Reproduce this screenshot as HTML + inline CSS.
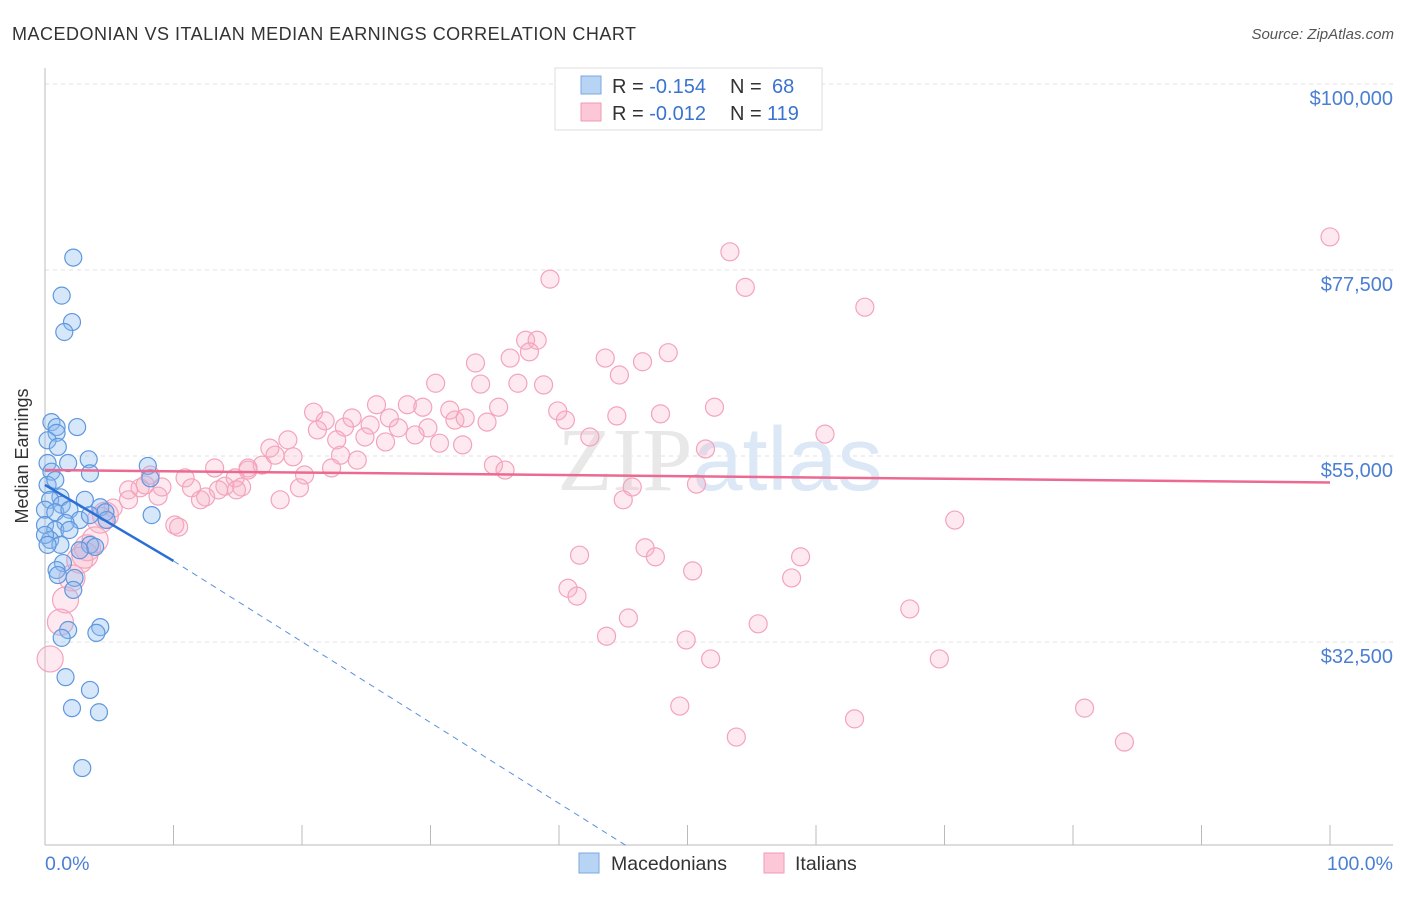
<!DOCTYPE html>
<html><head><meta charset="utf-8"><style>
body{margin:0;background:#fff;font-family:"Liberation Sans",sans-serif}
</style></head><body>
<svg width="1406" height="892" xmlns="http://www.w3.org/2000/svg">
<text x="12" y="40" font-size="18" fill="#333" textLength="624">MACEDONIAN VS ITALIAN MEDIAN EARNINGS CORRELATION CHART</text>
<text x="1394" y="39" font-size="15" fill="#555" text-anchor="end" font-style="italic">Source: ZipAtlas.com</text>
<g id="grid"></g>
<text x="720" y="490" font-size="90" fill="#e8e8e8" text-anchor="middle" font-family="Liberation Serif,serif">ZIP<tspan fill="#dce8f5" font-family="Liberation Sans,sans-serif">atlas</tspan></text>
<g id="pts"></g>
<g id="trend"></g>
<text x="28" y="456" font-size="18" fill="#333" text-anchor="middle" transform="rotate(-90 28 456)">Median Earnings</text>
<text x="45" y="870" font-size="19.5" fill="#4a7fd4">0.0%</text>
<text x="1393" y="870" font-size="19.5" fill="#4a7fd4" text-anchor="end">100.0%</text>
<g>
<rect x="555" y="68" width="267" height="62" fill="#fff" stroke="#ddd"/>
<rect x="581" y="76" width="20" height="18" fill="#b8d4f5" stroke="#7aa8e0"/>
<rect x="581" y="103" width="20" height="18" fill="#fcc8d8" stroke="#f09ab5"/>
<text x="612" y="93" font-size="20" fill="#333">R = <tspan fill="#3a74cf">-0.154</tspan><tspan x="730">N = </tspan><tspan x="772" fill="#3a74cf">68</tspan></text>
<text x="612" y="120" font-size="20" fill="#333">R = <tspan fill="#3a74cf">-0.012</tspan><tspan x="730">N = </tspan><tspan x="767" fill="#3a74cf">119</tspan></text>
</g>
<g>
<rect x="579" y="853" width="20" height="20" fill="#b8d4f5" stroke="#7aa8e0"/>
<text x="611" y="870" font-size="19.5" fill="#333">Macedonians</text>
<rect x="764" y="853" width="20" height="20" fill="#fcc8d8" stroke="#f09ab5"/>
<text x="795" y="870" font-size="19.5" fill="#333">Italians</text>
</g>
</svg>
<script>
const yTicks=[100000,77500,55000,32500];
const yTickLabels=["$100,000","$77,500","$55,000","$32,500"];
const blueX=[2.2,1.3,2.1,1.5,0.5,0.9,2.5,0.9,0.2,1.0,1.8,3.4,3.5,0.2,0.5,0.2,0.8,1.2,3.1,0.4,1.3,0.0,0.8,1.9,2.7,1.6,4.3,0,0.8,1.9,0.4,1.2,3.5,1.4,0.9,1.0,2.3,2.2,1.8,4.3,4.0,1.3,1.6,3.5,2.1,4.2,2.9,8.0,8.2,8.3,3.9,0,0.2,2.7,3.5,4.7,4.8];
const blueY=[79000,74400,71200,70000,59100,58500,58500,57800,56900,56100,54150,54600,52900,54150,53100,51500,52100,50000,49700,49700,49100,48500,48200,48500,47250,46900,48800,46650,46050,46050,44850,44250,44250,42050,41200,40600,40250,38800,33950,34300,33600,33000,28250,26700,24500,24000,17250,53800,52300,47850,44000,45450,44250,43600,47850,48200,47250];
const pinkX=[100,53.3,39.3,54.5,63.8,37.4,38.3,37.7,33.5,36.2,33.9,36.8,38.8,43.6,44.7,46.5,48.5,30.4,25.8,28.2,29.4,31.5,35.3,39.9,44.5,47.9,52.1,20.9,21.8,23.9,21.2,23.3,25.3,26.8,27.5,29.8,31.9,32.7,34.4,40.5,42.4,51.4,60.7,18.9,22.7,24.9,26.5,28.8,30.7,32.5,17.5,17.9,19.3,23.0,24.3,22.3,16.9,15.8,13.2,15.8,14.8,14.0,15.3,20.2,19.8,18.3,14.9,13.5,10.9,11.4,12.5,12.1,8.8,9.1,7.4,6.5,5.3,4.7,10.1,10.4,34.9,35.8,45.7,45.0,50.7,70.8,41.6,46.7,47.5,50.4,58.8,58.1,40.7,41.4,45.4,43.7,49.9,51.8,55.5,67.3,69.6,49.4,53.8,63.0,80.9,84.0,3.3,2.7,2.1,1.6,1.2,0.4,3.9,4.3,6.5,7.8,8.2,3.1];
const pinkY=[81500,79700,76400,75400,73000,69000,69000,67600,66250,66850,63700,63800,63600,66850,64800,66400,67500,63800,61200,61200,60900,60550,60900,60450,59850,60100,60900,60300,59250,59600,58150,58500,58750,59600,58400,58400,59350,59600,59100,59350,57300,55850,57650,56950,56950,57300,56700,57550,56550,56350,55950,55100,54900,55100,54500,53550,53900,53550,53550,53300,52350,51350,51250,52700,51150,49700,50900,50900,52350,51150,50050,49700,50150,51250,51150,50900,48700,47850,46650,46400,53900,53300,51250,49700,51600,47250,43000,43900,42800,41100,42800,40250,39000,38050,35400,33200,32750,30450,34700,36500,30450,24750,21000,23200,24500,20400,43900,42400,40250,37600,34900,30450,44850,47250,49700,51500,52700,43000];
const blueTrend=[[0,51500],[10,42300],[45.2,7900]];
const pinkTrend=[[0,53300],[100,51800]];
const NS="http://www.w3.org/2000/svg";
const X0=45,X1=1330,YB=845;
function sx(p){return X0+(X1-X0)*p/100;}
function sy(v){return 456-(v-55000)*186/22500;}
function mk(t,a,p){const e=document.createElementNS(NS,t);for(const k in a)e.setAttribute(k,a[k]);p.appendChild(e);return e;}
const grid=document.getElementById('grid');
yTicks.forEach((v,i)=>{
 const l=mk('line',{x1:X0,x2:1393,y1:sy(v),y2:sy(v),stroke:'#e2e2e2','stroke-dasharray':'4,4'},grid);
 
 
 const t=mk('text',{x:1393,y:sy(v)+21,'font-size':20,fill:'#4a7fd4','text-anchor':'end'},grid);
 t.textContent=yTickLabels[i];
 
 
});
const ax=mk('line',{x1:X0,x2:X0,y1:68,y2:YB,stroke:'#bbb'},grid);


const bx=mk('line',{x1:X0,x2:1393,y1:YB,y2:YB,stroke:'#bbb'},grid);


for(let i=0;i<=10;i++){const tk=mk('line',{x1:sx(i*10),x2:sx(i*10),y1:YB,y2:YB-20,stroke:'#bbb'},grid);
 
 }
const pts=document.getElementById('pts');
pinkX.forEach((x,i)=>{const c=mk('circle',{cx:sx(x),cy:sy(pinkY[i]),r:x<5?13:9,fill:'rgba(248,175,198,0.28)',stroke:'#f4a3bd','stroke-width':1.2},pts);
 
 });
blueX.forEach((x,i)=>{const c=mk('circle',{cx:sx(x),cy:sy(blueY[i]),r:8.5,fill:'rgba(140,185,240,0.35)',stroke:'#5f98de','stroke-width':1.2},pts);
 
 });
const tr=document.getElementById('trend');
const b1=mk('line',{x1:sx(blueTrend[0][0]),y1:sy(blueTrend[0][1]),x2:sx(blueTrend[1][0]),y2:sy(blueTrend[1][1]),stroke:'#2a6fd6','stroke-width':2.5},tr);


const b2=mk('line',{x1:sx(blueTrend[1][0]),y1:sy(blueTrend[1][1]),x2:sx(blueTrend[2][0]),y2:sy(blueTrend[2][1]),stroke:'#5a8fdc','stroke-width':1,'stroke-dasharray':'6,5'},tr);


const p1=mk('line',{x1:sx(pinkTrend[0][0]),y1:sy(pinkTrend[0][1]),x2:sx(pinkTrend[1][0]),y2:sy(pinkTrend[1][1]),stroke:'#ec6a92','stroke-width':2.5},tr);


</script>
</body></html>
